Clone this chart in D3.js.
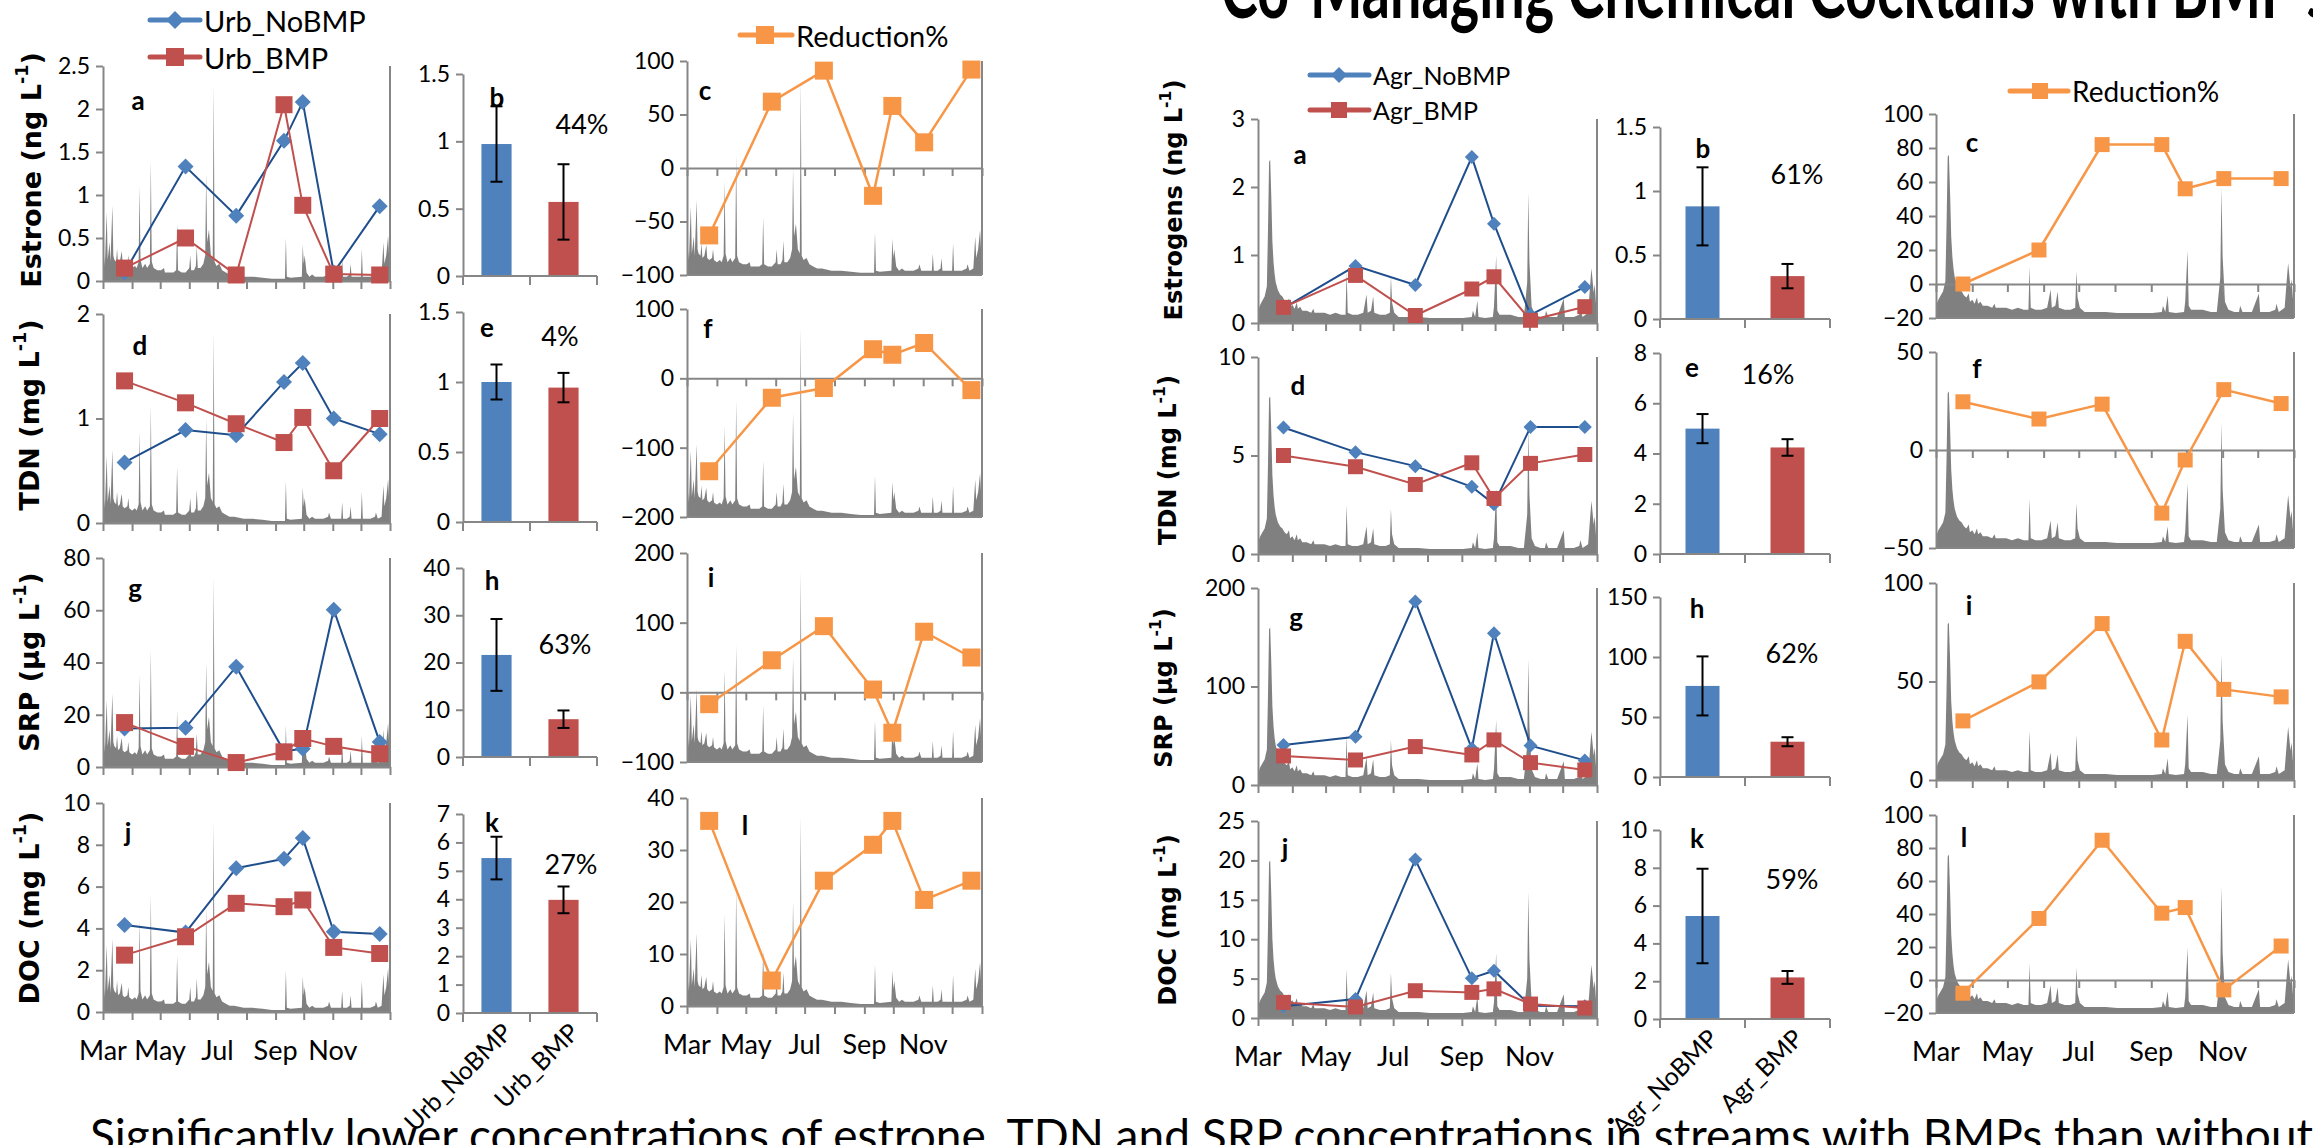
<!DOCTYPE html>
<html>
<head>
<meta charset="utf-8">
<script src="https://cdn.jsdelivr.net/npm/d3@7"></script>
<style>
  body { margin: 0; background: #fff; }
  text { font-family: Lato, "Open Sans", sans-serif; fill: #000; }
</style>
</head>
<body>
<svg id="chart" width="2313" height="1145"></svg>
<script>
// ---- data ----
const monthLabels = ["Mar", "May", "Jul", "Sep", "Nov"];
const sampleDates = ["2011-03-24", "2011-05-28", "2011-07-21", "2011-09-10", "2011-09-30", "2011-11-02", "2011-12-21"];

// urban streams
const urbEstroneNoBMP = [0.1, 1.33, 0.76, 1.63, 2.08, 0.1, 0.87];
const urbEstroneBMP   = [0.15, 0.5, 0.07, 2.05, 0.88, 0.08, 0.07];
const urbEstroneRed   = [-63, 62, 91, -26, 58, 24, 92];
const urbTdnNoBMP = [0.58, 0.89, 0.84, 1.35, 1.53, 1.0, 0.85];
const urbTdnBMP   = [1.36, 1.15, 0.95, 0.77, 1.01, 0.5, 1.0];
const urbTdnRed   = [-134, -28, -14, 42, 34, 51, -17];
const urbSrpNoBMP = [14.7, 15, 38.4, 6, 7, 60.2, 9.6];
const urbSrpBMP   = [17, 7.9, 1.7, 5.8, 10.9, 7.9, 5.1];
const urbSrpRed   = [-17, 46, 95, 4, -58, 87, 50];
const urbDocNoBMP = [4.16, 3.8, 6.88, 7.33, 8.32, 3.84, 3.73];
const urbDocBMP   = [2.72, 3.6, 5.2, 5.04, 5.36, 3.09, 2.8];
const urbDocRed   = [35.6, 4.9, 24.1, 31, 35.6, 20.4, 24.1];

// agricultural streams
const agrEstrogenNoBMP = [0.22, 0.84, 0.56, 2.44, 1.46, 0.12, 0.53];
const agrEstrogenBMP   = [0.23, 0.7, 0.11, 0.5, 0.68, 0.04, 0.24];
const agrEstrogenRed   = [0, 20, 82, 82, 56, 62, 62];
const agrTdnNoBMP = [6.42, 5.17, 4.46, 3.41, 2.53, 6.45, 6.45];
const agrTdnBMP   = [5.0, 4.43, 3.53, 4.63, 2.82, 4.6, 5.05];
const agrTdnRed   = [24.6, 15.8, 23.4, -32.2, -5.1, 30.8, 23.7];
const agrSrpNoBMP = [40.7, 49, 186.4, 37, 154, 40, 25];
const agrSrpBMP   = [29.5, 25.4, 39, 30.5, 45.8, 22.7, 15.3];
const agrSrpRed   = [30, 49.8, 79.4, 20.3, 70.4, 46, 42.2];
const agrDocNoBMP = [1.5, 2.4, 20.1, 5.06, 6.0, 1.56, 1.48];
const agrDocBMP   = [1.98, 1.4, 3.46, 3.25, 3.7, 1.77, 1.27];
const agrDocRed   = [-8, 37.3, 84.7, 40.5, 43.9, -6, 20.6];

// bar means and error half-widths
const urbNames = ["Urb_NoBMP", "Urb_BMP"];
const agrNames = ["Agr_NoBMP", "Agr_BMP"];
const urbEstroneMean = [0.98, 0.55], urbEstroneErr = [0.28, 0.28];
const urbTdnMean = [1.0, 0.96],      urbTdnErr = [0.125, 0.105];
const urbSrpMean = [21.6, 8.0],      urbSrpErr = [7.6, 1.85];
const urbDocMean = [5.45, 3.98],     urbDocErr = [0.75, 0.47];
const agrEstrogenMean = [0.88, 0.335], agrEstrogenErr = [0.305, 0.095];
const agrTdnMean = [4.99, 4.24],     agrTdnErr = [0.58, 0.33];
const agrSrpMean = [75.9, 29.4],     agrSrpErr = [24.6, 3.75];
const agrDocMean = [5.45, 2.2],      agrDocErr = [2.5, 0.34];
const urbPercent = ["44%", "4%", "63%", "27%"];
const agrPercent = ["61%", "16%", "62%", "59%"];

// stream discharge in the background, [day since 1 Mar, % of panel height]
const urbFlow = [[0,8],[1,12],[2,7],[3,20],[4,32],[5,10],[6,14],[7,18],[8,9],[9,22],[10,35],[11,12],[12,10],[14,9],[15,15],[16,8],[18,9],[20,14],[21,8],[23,7],[26,8],[27,12],[28,7],[31,6],[34,7],[36,6],[38,9],[39,44],[40,10],[42,6],[45,8],[47,6],[50,8],[51,56],[52,9],[54,6],[58,5],[62,5],[65,6],[66,4],[70,4],[75,4],[78,5],[79,27],[80,5],[84,4],[88,4],[92,6],[93,12],[94,5],[97,5],[99,7],[100,16],[101,6],[104,6],[107,8],[109,12],[110,50],[111,18],[113,24],[115,12],[117,10],[118,91],[119,9],[121,7],[124,8],[127,5],[131,4],[135,3],[140,3],[150,2],[160,2],[170,1.5],[180,1],[190,1],[194,1],[195,20],[196,2],[200,1.5],[212,2],[213,17],[214,8],[215,12],[217,4],[220,2],[223,3],[226,2],[235,2],[240,3],[241,5],[243,2],[250,2],[254,2],[255,10],[256,2],[260,2],[263,3],[264,8],[265,2],[270,2],[275,2],[276,15],[277,2],[285,2],[290,3],[291,5],[293,2],[297,3],[299,18],[300,8],[302,12],[304,21],[305,12],[306,10]];
const agrFlow = [[0,6],[2,9],[4,11],[6,13],[8,18],[9,45],[10,79],[11,80],[12,62],[13,40],[14,30],[15,24],[16,20],[17,18],[18,16],[20,14],[22,13],[24,11],[26,10],[28,12],[29,8],[31,9],[33,7],[35,10],[36,7],[38,8],[40,6],[44,6],[48,5],[50,7],[51,5],[55,5],[60,5],[65,4],[70,5],[75,4],[79,4],[80,25],[81,5],[85,4],[90,4],[95,5],[98,14],[99,5],[102,6],[104,13],[105,5],[110,4],[115,4],[119,5],[120,23],[121,10],[123,5],[127,3],[135,3],[145,3],[155,2.5],[165,2.5],[175,2.5],[185,2.5],[193,3],[194,6],[196,3],[198,11],[199,3],[205,2.5],[212,3],[213,8],[215,33],[216,6],[218,4],[228,4],[235,3],[240,3],[243,20],[244,64],[245,30],[247,8],[250,4],[255,3],[259,3],[260,6],[262,3],[270,3],[276,12],[277,3],[285,3],[290,4],[291,7],[293,3],[298,5],[300,20],[301,27],[303,15],[304,19],[305,10],[306,8]];

// ---- styles ----
const blueFill = "#4f81bd", blueLine = "#1f4e8c";
const redFill = "#c0504d", orange = "#f79646";
const axisGrey = "#868686", flowGrey = "#808080";
const tickFont = 23;

const svg = d3.select("#chart");
const parse = d3.timeParse("%Y-%m-%d");
const dates = sampleDates.map(parse);
const tStart = parse("2011-03-01"), tEnd = parse("2012-01-01");

function styleAxis(a) {
  a.selectAll(".domain").attr("stroke", axisGrey).attr("stroke-width", 2);
  a.selectAll(".tick line").attr("stroke", axisGrey).attr("stroke-width", 2);
  a.selectAll(".tick text").attr("fill", "#000").style("font-size", tickFont + "px")
    .style("font-family", "Lato, sans-serif");
}

function marker(shape, r) {
  if (shape === "diamond") return `M0,${-r}L${r},0L0,${r}L${-r},0Z`;
  return `M${-r},${-r}H${r}V${r}H${-r}Z`;
}

function drawSeries(g, x, y, vals, s) {
  const pts = vals.map((v, i) => [x(dates[i]), y(v)]);
  g.append("path").attr("d", d3.line()(pts)).attr("fill", "none")
    .attr("stroke", s.line).attr("stroke-width", s.lw);
  g.selectAll(null).data(pts).enter().append("path")
    .attr("transform", d => `translate(${d[0]},${d[1]})`)
    .attr("d", marker(s.shape, s.r)).attr("fill", s.fill);
}

function letter(txt, pos) {
  svg.append("text").attr("x", pos[0]).attr("y", pos[1]).attr("dominant-baseline", "central")
    .attr("text-anchor", "middle").style("font-size", "26px").style("font-weight", 700).text(txt);
}

function timePanel(p) {
  const g = svg.append("g");
  const x = d3.scaleTime().domain([tStart, tEnd]).range([p.x0, p.x1]);
  const y = d3.scaleLinear().domain(p.domain).range([p.y1, p.y0]);
  const yFlow = d3.scaleLinear().domain([0, 100]).range([p.y1, p.y0]);

  g.append("path").datum(p.flow).attr("fill", flowGrey)
    .attr("d", d3.area().x(d => x(d3.timeDay.offset(tStart, d[0]))).y0(p.y1).y1(d => yFlow(d[1])));

  // secondary axis line on the right and the base line
  g.append("line").attr("x1", p.x1).attr("x2", p.x1).attr("y1", p.y0).attr("y2", p.y1)
    .attr("stroke", axisGrey).attr("stroke-width", 2);
  g.append("line").attr("x1", p.x0).attr("x2", p.x1).attr("y1", p.y1).attr("y2", p.y1)
    .attr("stroke", axisGrey).attr("stroke-width", 2);

  const ya = g.append("g").attr("transform", `translate(${p.x0},0)`)
    .call(d3.axisLeft(y).tickValues(p.ticks).tickSize(7).tickSizeOuter(0).tickPadding(6).tickFormat(d3.format("")));
  styleAxis(ya);

  const xa = g.append("g").attr("transform", `translate(0,${y(0)})`)
    .call(d3.axisBottom(x).ticks(d3.timeMonth.every(1)).tickSize(8).tickSizeOuter(0).tickFormat(""));
  styleAxis(xa);

  p.series.forEach(s => drawSeries(g, x, y, s.values, s));

  if (p.months) {
    monthLabels.forEach(m => {
      g.append("text").attr("x", x(d3.timeParse("%b %Y")(m + " 2011"))).attr("y", p.y1 + 37)
        .attr("text-anchor", "middle").attr("dominant-baseline", "central")
        .style("font-size", "27px").text(m);
    });
  }
  letter(p.letter, p.letterPos);
  if (p.title) {
    const t = svg.append("text").attr("transform", `translate(${p.title.x},${p.title.y}) rotate(-90)`)
      .attr("text-anchor", "middle").attr("dominant-baseline", "central")
      .style("font-family", "'DejaVu Sans', sans-serif").style("font-weight", 700)
      .style("font-size", p.title.size + "px");
    t.append("tspan").text(p.title.text + " L");
    t.append("tspan").attr("dy", -p.title.size * 0.35).style("font-size", (p.title.size * 0.65) + "px").text("-1");
    t.append("tspan").attr("dy", p.title.size * 0.35).text(")");
  }
}

function barPanel(p) {
  const g = svg.append("g");
  const x = d3.scaleBand().domain(p.names).range([p.x0, p.x1]).paddingInner(p.pad).paddingOuter(p.pad / 2);
  const y = d3.scaleLinear().domain(p.domain).range([p.y1, p.y0]);
  const ya = g.append("g").attr("transform", `translate(${p.x0},0)`)
    .call(d3.axisLeft(y).tickValues(p.ticks).tickSize(7).tickSizeOuter(0).tickPadding(6).tickFormat(d3.format("")));
  styleAxis(ya);

  g.selectAll(null).data(p.names).enter().append("rect")
    .attr("x", d => x(d)).attr("width", x.bandwidth())
    .attr("y", (d, i) => y(p.mean[i])).attr("height", (d, i) => p.y1 - y(p.mean[i]))
    .attr("fill", (d, i) => i === 0 ? blueFill : redFill);

  // category axis, ticks between categories
  const edges = d3.range(p.names.length + 1).map(i => p.x0 + i * x.step());
  g.append("line").attr("x1", p.x0).attr("x2", p.x1).attr("y1", p.y1).attr("y2", p.y1)
    .attr("stroke", axisGrey).attr("stroke-width", 2);
  g.selectAll(null).data(edges).enter().append("line")
    .attr("x1", d => d).attr("x2", d => d).attr("y1", p.y1).attr("y2", p.y1 + 9)
    .attr("stroke", axisGrey).attr("stroke-width", 2);

  // error bars
  p.names.forEach((n, i) => {
    const cx = x(n) + x.bandwidth() / 2;
    const lo = y(p.mean[i] - p.err[i]), hi = y(p.mean[i] + p.err[i]);
    g.append("line").attr("x1", cx).attr("x2", cx).attr("y1", lo).attr("y2", hi).attr("stroke", "#000").attr("stroke-width", 2);
    [lo, hi].forEach(v => g.append("line").attr("x1", cx - 6).attr("x2", cx + 6).attr("y1", v).attr("y2", v)
      .attr("stroke", "#000").attr("stroke-width", 2));
    if (p.catLabels) {
      g.append("text").attr("transform", `translate(${cx + 10},${p.y1 + 14}) rotate(-45)`)
        .attr("text-anchor", "end").attr("dominant-baseline", "central")
        .style("font-size", p.catSize + "px").text(n);
    }
  });
  letter(p.letter, p.letterPos);
  svg.append("text").attr("x", p.pctPos[0]).attr("y", p.pctPos[1]).attr("text-anchor", "middle")
    .attr("dominant-baseline", "central").style("font-size", "27px").text(p.pct);
}

function legendItem(cx, cy, x0, x1, color, shape, r, label, size) {
  svg.append("line").attr("x1", x0).attr("x2", x1).attr("y1", cy).attr("y2", cy)
    .attr("stroke", color).attr("stroke-width", 5).attr("stroke-linecap", "round");
  svg.append("path").attr("transform", `translate(${cx},${cy})`).attr("d", marker(shape, r)).attr("fill", color);
  svg.append("text").attr("x", x1 + 4).attr("y", cy).attr("dominant-baseline", "central")
    .style("font-size", size + "px").text(label);
}

// ---- panel layout ----
const urbTs = [103, 390], urbBar = [463, 597], urbRed = [687, 982];
const agrTs = [1258, 1597], agrBar = [1660, 1830], agrRed = [1936, 2294];
const urbRowsTs = [[66, 281], [314, 523], [558, 767], [803, 1012]];
const urbRowsBar = [[74, 276], [312, 522], [568, 757], [814, 1013]];
const urbRowsRed = [[61, 275], [309, 517], [553, 762], [798, 1006]];
const agrRowsTs = [[119, 323], [357, 554], [588, 785], [821, 1018]];
const agrRowsBar = [[127, 319], [353, 554], [597, 777], [830, 1019]];
const agrRowsRed = [[114, 318], [352, 548], [583, 780], [815, 1013]];

const urbSets = [
  {no: urbEstroneNoBMP, bmp: urbEstroneBMP, red: urbEstroneRed, mean: urbEstroneMean, err: urbEstroneErr,
   dom: [0, 2.5], ticks: [0, 0.5, 1, 1.5, 2, 2.5], bdom: [0, 1.5], bticks: [0, 0.5, 1, 1.5],
   rdom: [-100, 100], rticks: [-100, -50, 0, 50, 100], title: "Estrone (ng", titlePos: [31, 170],
   letters: ["a", "b", "c"], lpos: [[138, 100], [497, 97], [705, 90]], pct: [582, 123]},
  {no: urbTdnNoBMP, bmp: urbTdnBMP, red: urbTdnRed, mean: urbTdnMean, err: urbTdnErr,
   dom: [0, 2], ticks: [0, 1, 2], bdom: [0, 1.5], bticks: [0, 0.5, 1, 1.5],
   rdom: [-200, 100], rticks: [-200, -100, 0, 100], title: "TDN (mg", titlePos: [29, 415],
   letters: ["d", "e", "f"], lpos: [[140, 345], [487, 327], [708, 328]], pct: [560, 335]},
  {no: urbSrpNoBMP, bmp: urbSrpBMP, red: urbSrpRed, mean: urbSrpMean, err: urbSrpErr,
   dom: [0, 80], ticks: [0, 20, 40, 60, 80], bdom: [0, 40], bticks: [0, 10, 20, 30, 40],
   rdom: [-100, 200], rticks: [-100, 0, 100, 200], title: "SRP (\u00b5g", titlePos: [29, 662],
   letters: ["g", "h", "i"], lpos: [[135, 588], [492, 580], [711, 577]], pct: [565, 643]},
  {no: urbDocNoBMP, bmp: urbDocBMP, red: urbDocRed, mean: urbDocMean, err: urbDocErr,
   dom: [0, 10], ticks: [0, 2, 4, 6, 8, 10], bdom: [0, 7], bticks: [0, 1, 2, 3, 4, 5, 6, 7],
   rdom: [0, 40], rticks: [0, 10, 20, 30, 40], title: "DOC (mg", titlePos: [29, 908],
   letters: ["j", "k", "l"], lpos: [[128, 832], [492, 822], [745, 825]], pct: [571, 863]}
];
const agrSets = [
  {no: agrEstrogenNoBMP, bmp: agrEstrogenBMP, red: agrEstrogenRed, mean: agrEstrogenMean, err: agrEstrogenErr,
   dom: [0, 3], ticks: [0, 1, 2, 3], bdom: [0, 1.5], bticks: [0, 0.5, 1, 1.5],
   rdom: [-20, 100], rticks: [-20, 0, 20, 40, 60, 80, 100], title: "Estrogens (ng", titlePos: [1174, 200],
   letters: ["a", "b", "c"], lpos: [[1300, 154], [1703, 148], [1972, 142]], pct: [1797, 173]},
  {no: agrTdnNoBMP, bmp: agrTdnBMP, red: agrTdnRed, mean: agrTdnMean, err: agrTdnErr,
   dom: [0, 10], ticks: [0, 5, 10], bdom: [0, 8], bticks: [0, 2, 4, 6, 8],
   rdom: [-50, 50], rticks: [-50, 0, 50], title: "TDN (mg", titlePos: [1168, 460],
   letters: ["d", "e", "f"], lpos: [[1298, 385], [1692, 367], [1977, 368]], pct: [1768, 373]},
  {no: agrSrpNoBMP, bmp: agrSrpBMP, red: agrSrpRed, mean: agrSrpMean, err: agrSrpErr,
   dom: [0, 200], ticks: [0, 100, 200], bdom: [0, 150], bticks: [0, 50, 100, 150],
   rdom: [0, 100], rticks: [0, 50, 100], title: "SRP (\u00b5g", titlePos: [1164, 688],
   letters: ["g", "h", "i"], lpos: [[1296, 617], [1697, 608], [1969, 605]], pct: [1792, 652]},
  {no: agrDocNoBMP, bmp: agrDocBMP, red: agrDocRed, mean: agrDocMean, err: agrDocErr,
   dom: [0, 25], ticks: [0, 5, 10, 15, 20, 25], bdom: [0, 10], bticks: [0, 2, 4, 6, 8, 10],
   rdom: [-20, 100], rticks: [-20, 0, 20, 40, 60, 80, 100], title: "DOC (mg", titlePos: [1168, 920],
   letters: ["j", "k", "l"], lpos: [[1285, 848], [1697, 838], [1964, 837]], pct: [1792, 878]}
];

function drawSide(sets, cols, rows, flow, names, pcts, sz) {
  sets.forEach((s, i) => {
    const last = i === sets.length - 1;
    timePanel({x0: cols.ts[0], x1: cols.ts[1], y0: rows.ts[i][0], y1: rows.ts[i][1],
      domain: s.dom, ticks: s.ticks, flow: flow, months: last,
      series: [
        {values: s.no, line: blueLine, lw: 2, fill: blueFill, shape: "diamond", r: sz.d},
        {values: s.bmp, line: redFill, lw: 2, fill: redFill, shape: "square", r: sz.s}
      ],
      letter: s.letters[0], letterPos: s.lpos[0],
      title: {text: s.title, x: s.titlePos[0], y: s.titlePos[1], size: sz.title}});
    barPanel({x0: cols.bar[0], x1: cols.bar[1], y0: rows.bar[i][0], y1: rows.bar[i][1], pad: sz.pad,
      names: names, mean: s.mean, err: s.err, domain: s.bdom, ticks: s.bticks, catLabels: last, catSize: 25,
      letter: s.letters[1], letterPos: s.lpos[1], pct: pcts[i], pctPos: s.pct});
    timePanel({x0: cols.red[0], x1: cols.red[1], y0: rows.red[i][0], y1: rows.red[i][1],
      domain: s.rdom, ticks: s.rticks, flow: flow, months: last,
      series: [{values: s.red, line: orange, lw: 2.5, fill: orange, shape: "square", r: sz.o}],
      letter: s.letters[2], letterPos: s.lpos[2]});
  });
}

drawSide(urbSets, {ts: urbTs, bar: urbBar, red: urbRed},
  {ts: urbRowsTs, bar: urbRowsBar, red: urbRowsRed}, urbFlow, urbNames, urbPercent,
  {d: 8, s: 8.5, o: 9, title: 27, pad: 0.55});
drawSide(agrSets, {ts: agrTs, bar: agrBar, red: agrRed},
  {ts: agrRowsTs, bar: agrRowsBar, red: agrRowsRed}, agrFlow, agrNames, agrPercent,
  {d: 7, s: 7.5, o: 7.5, title: 24, pad: 0.6});

// legends
legendItem(175, 20, 150, 200, blueFill, "diamond", 9, "Urb_NoBMP", 29);
legendItem(175, 57, 150, 200, redFill, "square", 9, "Urb_BMP", 29);
legendItem(765, 35, 740, 792, orange, "square", 9, "Reduction%", 29);
legendItem(1339, 75, 1310, 1369, blueFill, "diamond", 8, "Agr_NoBMP", 25);
legendItem(1339, 110, 1310, 1369, redFill, "square", 8, "Agr_BMP", 25);
legendItem(2040, 91, 2010, 2068, orange, "square", 8, "Reduction%", 28);

// slide title (cut by the top edge) and bottom sentence (cut by the bottom edge)
svg.append("text").attr("x", 1221).attr("y", 18).attr("textLength", 1110).attr("lengthAdjust", "spacingAndGlyphs")
  .style("font-size", "82px").style("font-weight", 700)
  .text("Co-Managing Chemical Cocktails with BMP\u2019s");
svg.append("text").attr("x", 90).attr("y", 1152).style("font-size", "46px")
  .text("Significantly lower concentrations of estrone, TDN and SRP concentrations in streams with BMPs than without");
</script>
</body>
</html>
